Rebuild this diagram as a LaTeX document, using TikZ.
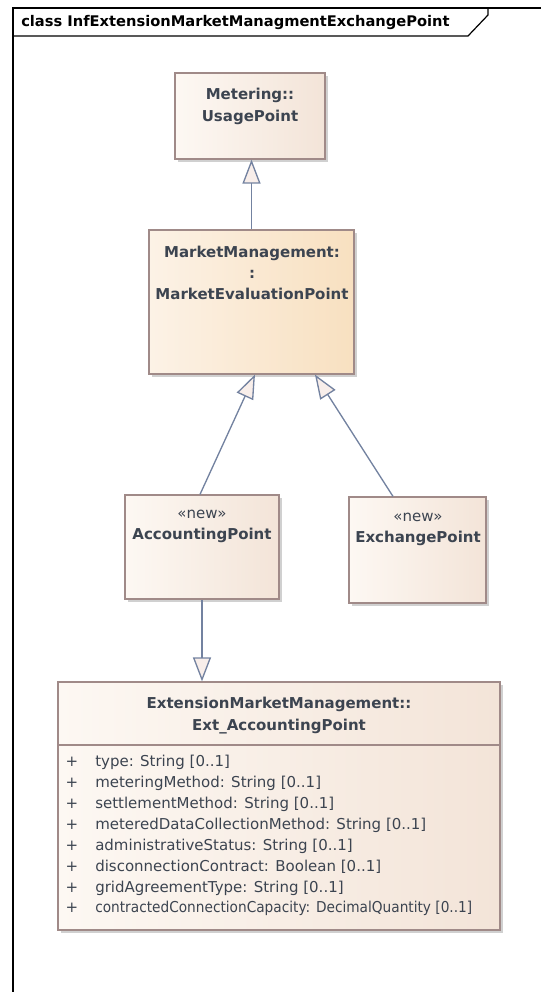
\documentclass[tikz,border=0pt]{standalone}
\usepackage{fontspec}
\setmainfont{DejaVu Sans}
\usetikzlibrary{arrows.meta,shadows}
\definecolor{txt}{HTML}{3C4450}
\definecolor{bord}{HTML}{A08A88}
\definecolor{conn}{HTML}{7382A0}
\definecolor{tipf}{HTML}{F8EEEA}
\definecolor{shd}{HTML}{D0D0D0}
\definecolor{pinkL}{HTML}{FDF8F3}
\definecolor{pinkR}{HTML}{F3E4D8}
\definecolor{orL}{HTML}{FCF2E6}
\definecolor{orR}{HTML}{F8E0C0}
\begin{document}
\begin{tikzpicture}[x=0.75pt,y=-0.75pt,
  cls/.style={draw=bord,line width=0.9pt,left color=pinkL,right color=pinkR,
    drop shadow={shadow xshift=2.25pt,shadow yshift=-2.25pt,fill=shd,opacity=1},inner sep=0pt},
  clsor/.style={cls,left color=orL,right color=orR},
  gen/.style={draw=conn,line width=1pt,-{Triangle[length=18pt,width=13.5pt,fill=tipf]}},
  lbl/.style={text=txt,font=\fontsize{11.25}{15}\selectfont,inner sep=0pt,anchor=mid},
  blbl/.style={lbl,font=\fontsize{11.25}{15}\selectfont\bfseries},
  attr/.style={lbl,anchor=mid west}]
\useasboundingbox (0,0) rectangle (541,992);
% frame
\draw[black,line width=0.9pt] (13,992) coordinate (fbl) -- (13,8) coordinate (ftl) -- (541,8) coordinate (ftr);
\draw[black,line width=0.9pt] (488,8) -- (488,15) -- (468,36) -- (13,36);
\node[blbl,text=black,anchor=mid west,font=\fontsize{11}{15}\selectfont\bfseries] (title) at (21,23) {class InfExtensionMarketManagmentExchangePoint};
% boxes
\node[cls,minimum width=112.5pt,minimum height=64.5pt] (up) at (250,116) {};
\node[clsor,minimum width=153.75pt,minimum height=108pt] (mep) at (251.5,302) {};
\node[cls,minimum width=115.5pt,minimum height=78pt] (acc) at (202,547) {};
\node[cls,minimum width=102.75pt,minimum height=79.5pt] (exch) at (417.5,550) {};
\node[cls,minimum width=331.5pt,minimum height=186pt] (ext) at (279,806) {};
\draw[bord,line width=0.9pt] (ext.west |- 0,745) -- (ext.east |- 0,745);
% texts
\node[blbl] (upa) at (250,96) {Metering::};
\node[blbl] (upb) at (250,118) {UsagePoint};
\node[blbl] (mepa) at (252,254) {MarketManagement:};
\node[blbl] (mepb) at (252,275) {:};
\node[blbl] (mepc) at (252,296) {MarketEvaluationPoint};
\node[lbl] (acca) at (202,515) {«new»};
\node[blbl] (accb) at (202,536) {AccountingPoint};
\node[lbl] (exa) at (418,518) {«new»};
\node[blbl] (exb) at (418,539) {ExchangePoint};
\node[blbl] (exta) at (279,705) {ExtensionMarketManagement::};
\node[blbl] (extb) at (279,727) {Ext\_AccountingPoint};
\foreach \t [count=\i from 0] in {type: String [0..1],
  meteringMethod: String [0..1],
  settlementMethod: String [0..1],
  meteredDataCollectionMethod: String [0..1],
  administrativeStatus: String [0..1],
  disconnectionContract: Boolean [0..1],
  gridAgreementType: String [0..1],
  \scalebox{0.913}[1]{contractedConnectionCapacity: DecimalQuantity [0..1]}}{
  \node[lbl] (p\i) at (72,763+20.9*\i) {+};
  \node[attr] (a\i) at (95,763+20.9*\i) {\t};
}
% connectors
\draw[gen] (mep.north) -- (mep.north |- up.south);
\draw[gen] ([xshift=-1.5pt]acc.north) -- ([xshift=2.6pt]mep.south);
\draw[gen] ([xshift=-18.4pt]exch.north) -- ([xshift=47.6pt]mep.south);
\draw[gen] (acc.south) -- (acc.south |- ext.north);
\end{tikzpicture}
\end{document}
